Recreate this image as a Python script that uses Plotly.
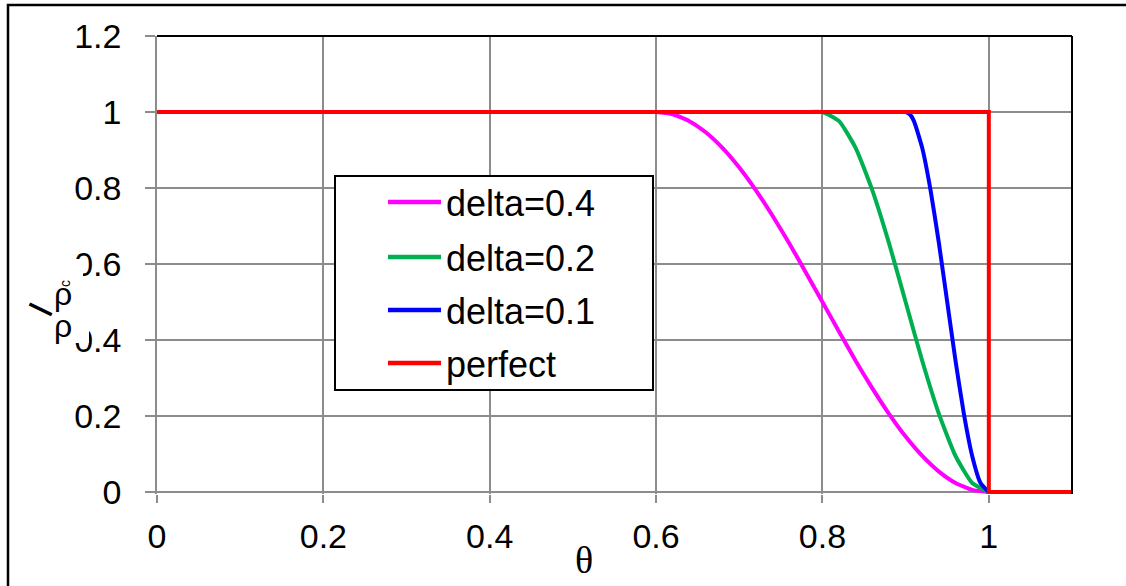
import plotly.graph_objects as go

# ---- data ----
theta_d04 = [0, 0.2, 0.4, 0.56, 0.58, 0.60, 0.62, 0.64, 0.66, 0.68, 0.70, 0.72, 0.74, 0.76, 0.78, 0.80,
             0.82, 0.84, 0.86, 0.88, 0.90, 0.92, 0.94, 0.96, 0.98, 1.00]
i_d04 = [1, 1, 1, 1, 1, 1, 0.994, 0.976, 0.946, 0.905, 0.854, 0.794, 0.727, 0.655, 0.578, 0.5,
         0.422, 0.345, 0.273, 0.206, 0.146, 0.095, 0.054, 0.024, 0.006, 0]

theta_d02 = [0, 0.2, 0.4, 0.6, 0.76, 0.78, 0.80, 0.82, 0.84, 0.86, 0.88, 0.90, 0.92, 0.94, 0.96, 0.98, 1.00]
i_d02 = [1, 1, 1, 1, 1, 1, 1, 0.976, 0.905, 0.794, 0.655, 0.5, 0.345, 0.206, 0.095, 0.024, 0]

theta_d01 = [0, 0.2, 0.4, 0.6, 0.8, 0.88, 0.89, 0.90, 0.905, 0.91, 0.92, 0.93, 0.94, 0.95, 0.96,
             0.97, 0.98, 0.99, 1.00]
i_d01 = [1, 1, 1, 1, 1, 1, 1, 1, 0.994, 0.976, 0.905, 0.794, 0.655, 0.5, 0.345,
         0.206, 0.095, 0.024, 0]

theta_perfect = [0, 1.0, 1.0, 1.1]
i_perfect = [1, 1, 0, 0]

series_names = ["delta=0.4", "delta=0.2", "delta=0.1", "perfect"]
series_colors = ["#FF00FF", "#00B050", "#0000FF", "#FF0000"]

x_ticks = [0, 0.2, 0.4, 0.6, 0.8, 1.0]
x_ticklabels = ["0", "0.2", "0.4", "0.6", "0.8", "1"]
y_ticks = [0, 0.2, 0.4, 0.6, 0.8, 1.0, 1.2]
y_ticklabels = ["0", "0.2", "0.4", "0.6", "0.8", "1", "1.2"]

# ---- layout helpers (pixel -> paper) ----
L, R, T, B = 157, 1072, 36, 494
W, H = 1126, 586


def px2x(px):
    return (px - L) / (R - L)


def py2y(py):
    return (B - py) / (B - T)


FONT = "Liberation Sans, Arial, sans-serif"
GRID = "#8c8c8c"

fig = go.Figure()
data = [(theta_d04, i_d04), (theta_d02, i_d02), (theta_d01, i_d01), (theta_perfect, i_perfect)]
for (xs, ys), name, col in zip(data, series_names, series_colors):
    fig.add_trace(go.Scatter(
        x=xs, y=ys, mode="lines", name=name,
        line=dict(color=col, width=4, shape="linear" if name == "perfect" else "spline", smoothing=0.5),
        showlegend=False,
    ))

shapes = []
# plot-area top and right border (black)
shapes.append(dict(type="line", xref="paper", yref="paper", x0=0, x1=1, y0=1, y1=1,
                   line=dict(color="black", width=2)))
shapes.append(dict(type="line", xref="paper", yref="paper", x0=1, x1=1, y0=0, y1=1,
                   line=dict(color="black", width=2)))
# outer chart frame (right/bottom edges fall outside the picture)
shapes.append(dict(type="rect", xref="paper", yref="paper",
                   x0=px2x(8), x1=px2x(1140), y0=py2y(5), y1=py2y(600),
                   line=dict(color="black", width=2.5), fillcolor="rgba(0,0,0,0)"))
# white box of the axis-title block (it hides part of the 0.6 / 0.4 labels, as in the source)
shapes.append(dict(type="rect", xref="paper", yref="paper",
                   x0=px2x(20), x1=px2x(83), y0=py2y(259), y1=py2y(301),
                   line=dict(width=0), fillcolor="white", layer="above"))
shapes.append(dict(type="rect", xref="paper", yref="paper",
                   x0=px2x(20), x1=px2x(89), y0=py2y(300), y1=py2y(343),
                   line=dict(width=0), fillcolor="white", layer="above"))
# legend box
shapes.append(dict(type="rect", xref="paper", yref="paper",
                   x0=px2x(335), x1=px2x(653), y0=py2y(176), y1=py2y(390),
                   line=dict(color="black", width=2), fillcolor="white", layer="above"))

annotations = []
row_y = [202, 257, 310, 363]
for name, col, ry in zip(series_names, series_colors, row_y):
    shapes.append(dict(type="line", xref="paper", yref="paper",
                       x0=px2x(388), x1=px2x(441), y0=py2y(ry), y1=py2y(ry),
                       line=dict(color=col, width=4.5), layer="above"))
    annotations.append(dict(xref="paper", yref="paper", x=px2x(444), y=py2y(ry + 1),
                            text=name, showarrow=False, xanchor="left", yanchor="middle",
                            font=dict(family=FONT, size=36, color="black")))

# axis titles
annotations.append(dict(xref="paper", yref="paper", x=px2x(584), y=py2y(560), text="θ",
                        showarrow=False, xanchor="center", yanchor="middle",
                        font=dict(family="Liberation Serif, Times New Roman, serif", size=38, color="black")))
annotations.append(dict(xref="paper", yref="paper", x=px2x(40), y=py2y(309), text="I",
                        showarrow=False, xanchor="center", yanchor="middle", textangle=-64,
                        font=dict(family=FONT, size=36, color="black")))
annotations.append(dict(xref="paper", yref="paper", x=px2x(63), y=py2y(326), text="ρ",
                        showarrow=False, xanchor="center", yanchor="middle",
                        font=dict(family=FONT, size=32, color="black")))
annotations.append(dict(xref="paper", yref="paper", x=px2x(63), y=py2y(294), text="ρ",
                        showarrow=False, xanchor="center", yanchor="middle",
                        font=dict(family=FONT, size=32, color="black")))
annotations.append(dict(xref="paper", yref="paper", x=px2x(65), y=py2y(284), text="c",
                        showarrow=False, xanchor="center", yanchor="middle", textangle=-90,
                        font=dict(family=FONT, size=14, color="black")))

fig.update_layout(
    width=W, height=H,
    margin=dict(l=L, r=W - R, t=T, b=H - B),
    paper_bgcolor="white", plot_bgcolor="white",
    shapes=shapes, annotations=annotations,
    xaxis=dict(range=[0, 1.1], tickvals=x_ticks, ticktext=x_ticklabels,
               showgrid=True, gridcolor=GRID, gridwidth=1.5,
               showline=False, zeroline=False,
               ticks="outside", ticklen=8, tickwidth=1.5, tickcolor=GRID,
               ticklabelstandoff=4,
               tickfont=dict(family=FONT, size=34, color="black")),
    yaxis=dict(range=[-0.005, 1.2], tickvals=y_ticks, ticktext=y_ticklabels,
               showgrid=True, gridcolor=GRID, gridwidth=1.5,
               showline=True, linecolor=GRID, linewidth=1.5,
               zeroline=True, zerolinecolor=GRID, zerolinewidth=1.5,
               ticks="outside", ticklen=10, tickwidth=1.5, tickcolor=GRID,
               ticklabelstandoff=17,
               tickfont=dict(family=FONT, size=34, color="black")),
)

fig.write_html("out.html")
